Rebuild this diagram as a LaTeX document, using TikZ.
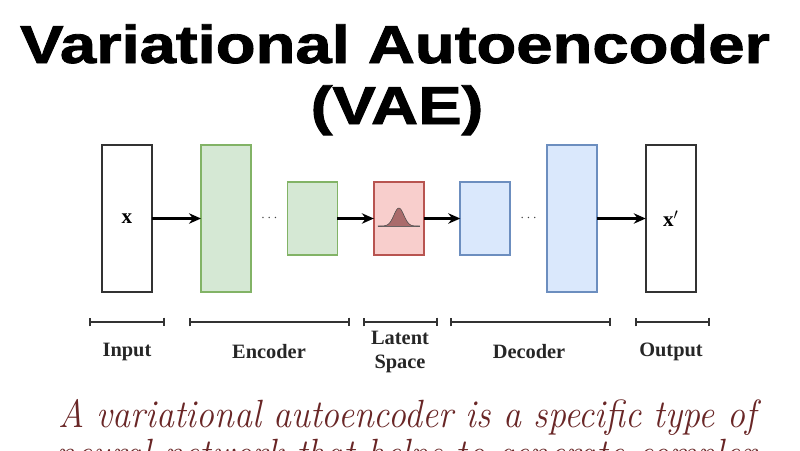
\documentclass[tikz,border=0pt]{standalone}
\usepackage{fontspec}
\usepackage{tikz}
\usetikzlibrary{calc,positioning,arrows.meta}
\newfontfamily\titlefont[BoldFeatures={FakeBold=1.5}]{Liberation Sans}
\newfontfamily\lblfont{Liberation Serif}
\definecolor{EncFill}{HTML}{D5E8D4}
\definecolor{EncLine}{HTML}{82B366}
\definecolor{LatFill}{HTML}{F8CECC}
\definecolor{LatLine}{HTML}{B85450}
\definecolor{DecFill}{HTML}{DAE8FC}
\definecolor{DecLine}{HTML}{6C8EBF}
\definecolor{BoxLine}{HTML}{333333}
\definecolor{CapRed}{RGB}{105,38,38}

\begin{document}
\begin{tikzpicture}[
        x=0.025cm, y=-0.025cm,
        layer/.style={draw, line width=1.2pt, minimum width=1.25cm, inner sep=0pt, outer sep=0pt},
        big/.style={layer, minimum height=3.675cm},
        small/.style={layer, minimum height=1.825cm},
        enc/.style={fill=EncFill, draw=EncLine},
        lat/.style={fill=LatFill, draw=LatLine},
        dec/.style={fill=DecFill, draw=DecLine},
        io/.style={big, draw=BoxLine, fill=white, line width=1.6pt, font=\lblfont\bfseries\fontsize{15}{17}\selectfont},
        dots/.style={font=\normalsize, text=black!75},
        flow/.style={->, line width=1.6pt},
        >={Stealth[length=3mm, width=2.6mm]},
        span/.style={{Bar[width=2.2mm]}-{Bar[width=2.2mm]}, line width=1.4pt, draw=BoxLine},
        part/.style={font=\lblfont\bfseries\fontsize{14.5}{17}\selectfont, align=center, text=black!85},
        title/.style={font=\titlefont\bfseries\fontsize{38}{40}\selectfont, anchor=base},
        caption/.style={font=\itshape\fontsize{28}{30}\selectfont, text=CapRed, anchor=base},
        node distance=0.91cm
    ]
        \useasboundingbox (0,0) rectangle (800,450);
        \clip (0,0) rectangle (800,450);
        % title
        \node[title] (t1) at (395,63) {\scalebox{1.22}[1]{Variational Autoencoder}};
        \node[title] (t2) at (397,124) {\scalebox{1.22}[1]{(VAE)}};
        % network
        \node[io] (in) at (127,218.5) {x};
        \node[big, enc, right=1.225cm of in] (enc1) {};
        \node[small, enc, right=of enc1] (enc2) {};
        \node[small, lat, right=of enc2] (lat) {};
        \node[small, dec, right=of lat] (dec1) {};
        \node[big, dec, right=of dec1] (dec2) {};
        \node[io, right=1.225cm of dec2] (out) {x$'$};
        \node[dots] (d1) at ($(enc1.east)!0.5!(enc2.west)$) {$\cdots$};
        \node[dots] (d2) at ($(dec1.east)!0.5!(dec2.west)$) {$\cdots$};
        \draw[flow] (in) -- (enc1);
        \draw[flow] (enc2) -- (lat);
        \draw[flow] (lat) -- (dec1);
        \draw[flow] (dec2) -- (out);
        % bell curve in latent box
        \begin{scope}[shift={(lat.center)}]
            \draw[gray!80!black, line width=0.3pt] (-21,7.5) -- (21,7.5);
            \draw[fill=gray!65!red!80!black, fill opacity=0.7, draw=gray!60!black, line width=0.4pt]
                plot[domain=-21:21, samples=50] (\x, {7.5-18*exp(-(\x/7)^2)});
        \end{scope}
        % spans
        \foreach \n/\a/\b in {in/89/165, enc/189/350, lat/363/438, dec/450/611, out/635/710} {
            \coordinate (\n-l) at (\a,322);
            \coordinate (\n-r) at (\b,322);
            \draw[span] (\n-l) -- (\n-r);
        }
        \node[part] (l-in) at (127,352) {Input};
        \node[part] (l-enc) at (269,352) {Encoder};
        \node[part] (l-lat) at (400,352) {Latent\\Space};
        \node[part] (l-dec) at (529,352) {Decoder};
        \node[part] (l-out) at (671,352) {Output};
        % caption
        \node[caption] (c1) at (407,427) {\scalebox{0.91}[1]{A variational autoencoder is a specific type of}};
        \node[caption] (c2) at (407,466) {\scalebox{0.91}[1]{neural network that helps to generate complex}};
    \end{tikzpicture}
\end{document}
